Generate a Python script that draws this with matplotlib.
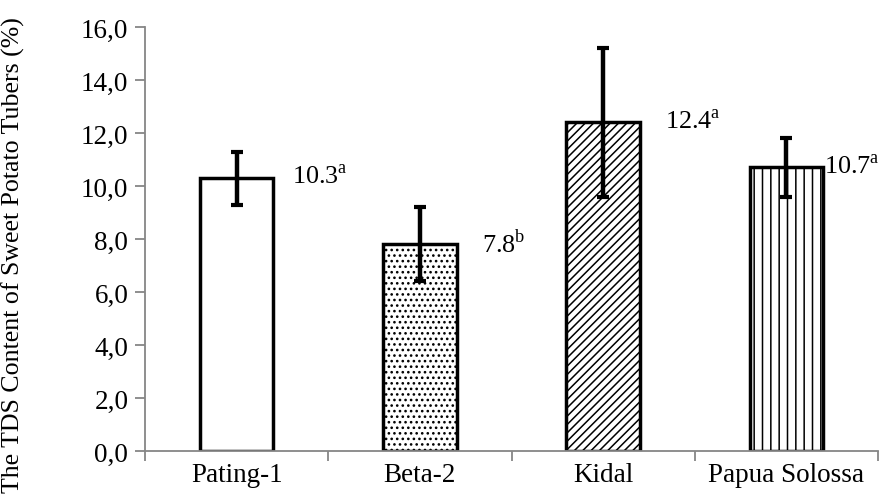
import numpy as np
import matplotlib
matplotlib.use("Agg")
import matplotlib.pyplot as plt

plt.rcParams['font.family'] = ['Liberation Serif', 'DejaVu Serif']
plt.rcParams['mathtext.fontset'] = 'custom'
plt.rcParams['mathtext.rm'] = 'Liberation Serif'
plt.rcParams['hatch.linewidth'] = 1.1

# data
varieties = ['Pating-1', 'Beta-2', 'Kidal', 'Papua Solossa']
tds = [10.3, 7.8, 12.4, 10.7]
tds_err = [1.0, 1.4, 2.8, 1.1]
letters = ['a', 'b', 'a', 'a']
y_ticks = [0, 2, 4, 6, 8, 10, 12, 14, 16]
y_tick_labels = ['0,0', '2,0', '4,0', '6,0', '8,0', '10,0', '12,0', '14,0', '16,0']

hatches = ['', '...', '////', '||']
label_dx = [0.30, 0.34, 0.34, 0.205]   # how far right of the bar centre the label sits
grey = '#868686'

fig = plt.figure(figsize=(8.8, 5.02), dpi=100)
ax = fig.add_axes([145/880, 50/502, 733/880, 424/502])

x = np.arange(len(varieties))
bars = ax.bar(x, tds, width=0.4, color='white', edgecolor='black',
              linewidth=2.5, hatch=hatches, zorder=2)
ax.errorbar(x, tds, yerr=tds_err, fmt='none', ecolor='black',
            elinewidth=3.2, capsize=4.5, capthick=3, zorder=3)

for i in range(len(varieties)):
    ax.text(x[i] + label_dx[i], tds[i] + 0.05, f"{tds[i]:.1f}" + r"$^{\mathrm{" + letters[i] + "}}$",
            fontsize=18.8, ha='left', va='center')

ax.set_xlim(-0.5, len(varieties) - 0.5)
ax.set_ylim(0, 16)
ax.set_yticks(y_ticks)
ax.set_yticklabels(y_tick_labels)
ax.set_xticks(x)
ax.set_xticklabels(varieties)
ax.set_xticks(np.arange(-0.5, len(varieties)), minor=True)

ax.tick_params(axis='x', which='major', length=0, labelsize=19.5, pad=8)
ax.tick_params(axis='x', which='minor', length=7, width=1.3, color=grey, direction='out')
ax.tick_params(axis='y', length=7, width=1.3, color=grey, labelsize=19.5, pad=5)

for side in ['top', 'right']:
    ax.spines[side].set_visible(False)
for side in ['left', 'bottom']:
    ax.spines[side].set_color(grey)
    ax.spines[side].set_linewidth(1.3)
    ax.spines[side].set_zorder(4)

ax.set_ylabel('The TDS Content of Sweet Potato Tubers (%)', fontsize=18.6)
ax.yaxis.set_label_coords(-120/733, 0.465)

fig.savefig('out.png', dpi=100)
